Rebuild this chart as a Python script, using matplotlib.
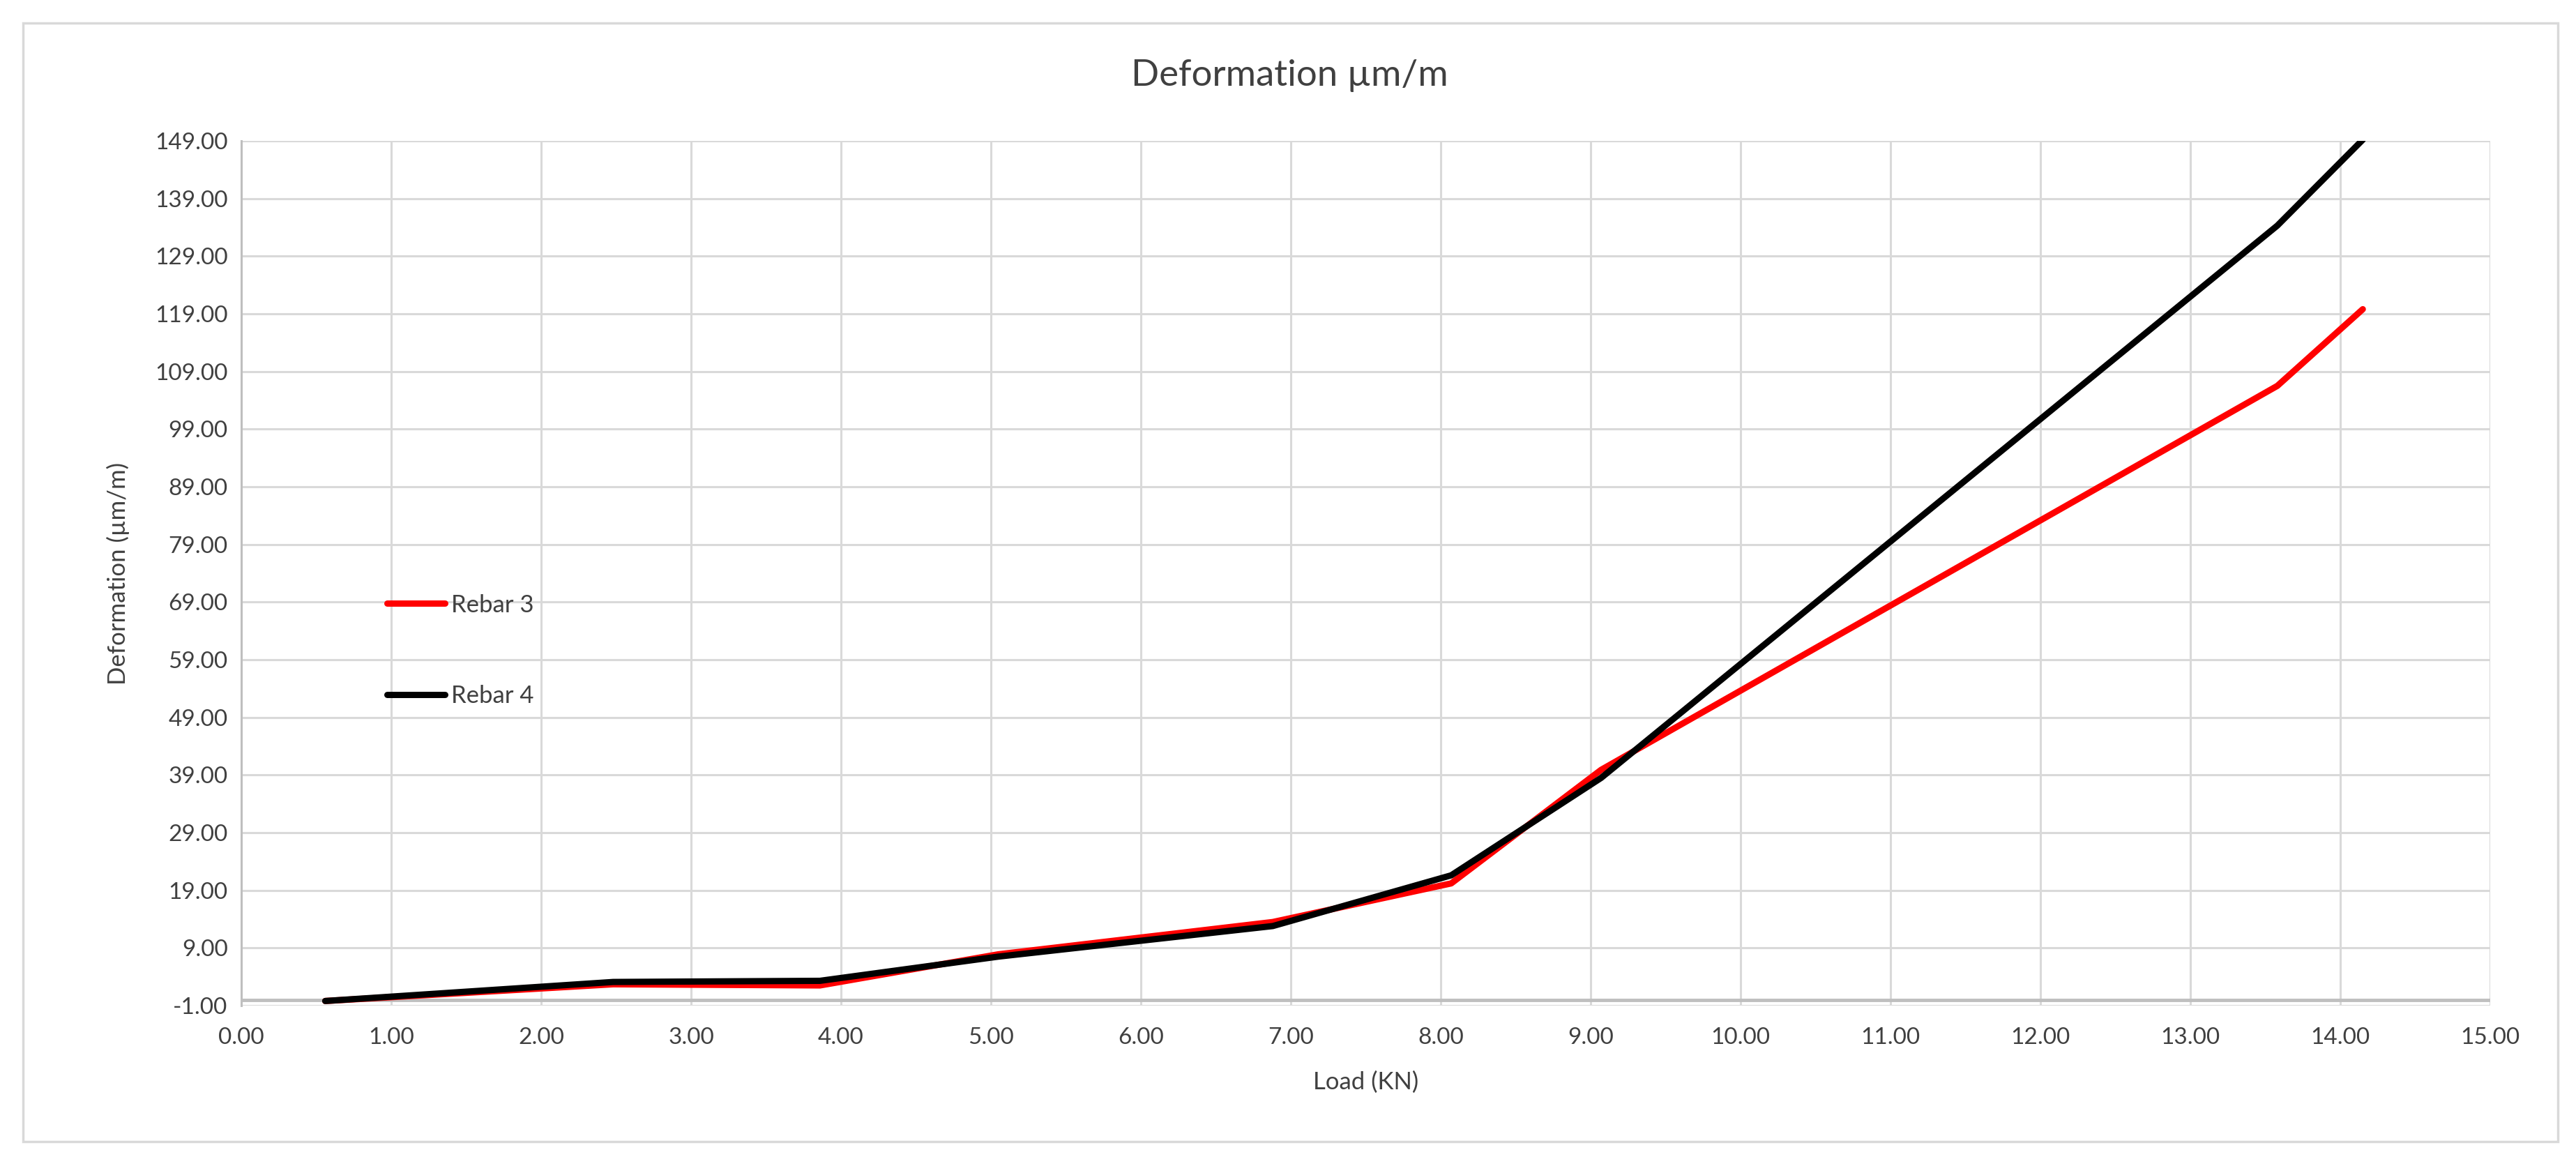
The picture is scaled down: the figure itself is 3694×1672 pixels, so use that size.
import matplotlib
matplotlib.use("Agg")
import matplotlib.pyplot as plt
from matplotlib.patches import Rectangle

# Load steps (KN) and measured deformation (µm/m)
load = [0.56, 2.48, 3.86, 5.05, 6.88, 8.07, 9.07, 13.58, 14.15]
rebar3 = [-0.2, 2.7, 2.5, 7.9, 13.5, 20.2, 39.9, 106.5, 119.8]
rebar4 = [-0.2, 3.1, 3.3, 7.5, 12.8, 21.6, 38.5, 134.3, 149.2]

x_ticks = list(range(0, 16))
y_ticks = list(range(-1, 150, 10))

plt.rcParams['font.family'] = ['Lato', 'DejaVu Sans']
plt.rcParams['text.color'] = '#404040'

W, H = 3694, 1672
fig = plt.figure(figsize=(W / 100, H / 100), dpi=100)
ax = fig.add_axes([346 / W, 1 - 1442 / H, (3571 - 346) / W, (1442 - 202) / H])

grid_col = '#d9d9d9'
ax.plot(load, rebar3, color='#ff0000', lw=6.5, solid_capstyle='round',
        solid_joinstyle='round', label='Rebar 3', zorder=3)
ax.plot(load, rebar4, color='black', lw=6.5, solid_capstyle='round',
        solid_joinstyle='round', label='Rebar 4', zorder=4)

ax.set_xlim(0, 15)
ax.set_ylim(-1, 149)
ax.set_xticks(x_ticks)
ax.set_yticks(y_ticks)
ax.set_xticklabels([f"{v:.2f}" for v in x_ticks])
ax.set_yticklabels([f"{v:.2f}" for v in y_ticks])
ax.tick_params(length=0, labelsize=24, colors='#404040', pad=14)
ax.tick_params(axis='x', pad=22)
ax.grid(True, color=grid_col, lw=2.2)
ax.set_axisbelow(True)
for s in ['top', 'right', 'bottom']:
    ax.spines[s].set_visible(False)
ax.spines['left'].set_color('#bfbfbf')
ax.spines['left'].set_linewidth(2.2)
ax.axhline(0, color='#bfbfbf', lw=3.5, zorder=2)

ax.set_xlabel('Load (KN)', fontsize=25, color='#404040', labelpad=24)
ax.set_ylabel('Deformation (µm/m)', fontsize=25, color='#404040', labelpad=26)
fig.text(1849 / W, 1 - 108 / H, 'Deformation µm/m', ha='center', va='center',
         fontsize=38, color='#404040')

leg = ax.legend(loc='center left', bbox_to_anchor=(555 / W, 1 - 933 / H),
                bbox_transform=fig.transFigure, frameon=False, fontsize=25,
                handlelength=2.4, handletextpad=0.25, labelspacing=2.85,
                borderpad=0, borderaxespad=0)

fig.patches.append(Rectangle((33 / W, 1 - 1637 / H), (3668 - 33) / W, (1637 - 33) / H,
                             transform=fig.transFigure, fill=False,
                             edgecolor='#d9d9d9', lw=2.5))

fig.savefig('out.png', dpi=100)
